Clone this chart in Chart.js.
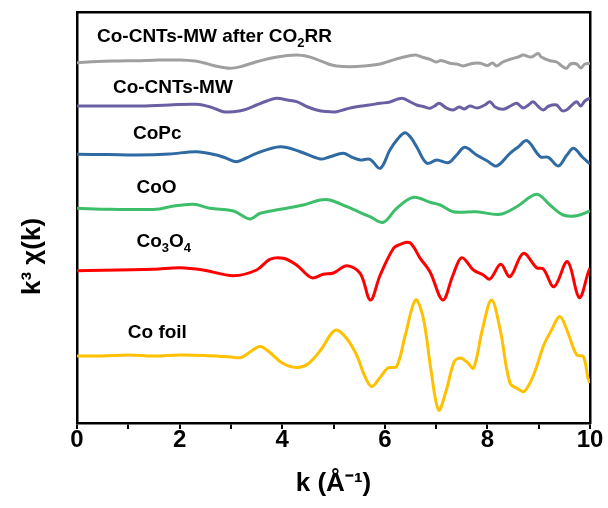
<!DOCTYPE html>
<html>
<head>
<meta charset="utf-8">
<script src="https://cdn.jsdelivr.net/npm/chart.js@4.4.1/dist/chart.umd.min.js"></script>
<style>
html,body{margin:0;padding:0;background:#fff;}
canvas{display:block;}
</style>
</head>
<body>
<canvas id="c" width="608" height="508"></canvas>
<script>
// ---- Data (k in Å^-1, k^3 chi(k) with vertical offsets, arbitrary units) ----
const seriesNames = ["Co-CNTs-MW after CO2RR", "Co-CNTs-MW", "CoPc", "CoO", "Co3O4", "Co foil"];
const seriesColors = ["#9F9F9F", "#6960A3", "#2F6AA3", "#3DBE6A", "#FF0000", "#FFC000"];

const kAfter = [0,0.4,0.8,1.16,1.6,2.0,2.3,2.46,2.7,2.98,3.2,3.5,3.9,4.28,4.5,4.67,4.9,5.06,5.32,5.6,5.91,6.1,6.3,6.59,6.75,6.88,7.0,7.1,7.27,7.4,7.53,7.7,7.86,8.0,8.1,8.18,8.3,8.44,8.6,8.7,8.85,8.99,9.05,9.22,9.35,9.45,9.54,9.62,9.74,9.82,9.9,10];
const yAfter = [360.3,361.5,362,362.3,363,363,362,360.3,357,354.7,356.5,361.3,366,368,366.5,363.7,359,357,356.3,357,359,362,365,368,365.5,363.7,361,362.5,359.7,359,357,359.5,359.7,357.5,360,357,361,363.7,366,368,366,369.5,366,362.3,361,357,354.7,359,359,355,359,359.7];

const kCNT = [0,0.6,1.16,1.8,2.33,2.6,2.85,3.05,3.25,3.5,3.7,3.89,4.1,4.28,4.5,4.67,4.85,5.06,5.25,5.45,5.7,5.91,6.1,6.33,6.5,6.62,6.75,6.88,6.97,7.06,7.2,7.33,7.45,7.55,7.66,7.8,7.95,8.05,8.15,8.31,8.45,8.57,8.7,8.8,8.89,9.0,9.09,9.2,9.35,9.45,9.54,9.65,9.74,9.82,9.9,10];
const yCNT = [317,317,317,318,318.7,316,311.3,311.3,313,318,322,324.7,323,321.3,316,313,311.5,311.3,314,316.3,318,319.7,321,324.7,321,318,316.5,314.7,317,319.7,315,313,316,314,317,315,318,321.3,316,313.7,317,319.7,315,318,321.3,316,313,317,318,312.5,313,318,321.3,317,322,325];

const kCoPc = [0,0.6,1.16,1.8,2.33,2.72,2.9,3.11,3.3,3.5,3.96,4.35,4.74,4.93,5.19,5.35,5.52,5.71,5.91,6.1,6.25,6.39,6.5,6.62,6.82,7.01,7.24,7.4,7.56,7.79,8.0,8.18,8.44,8.6,8.77,9.03,9.19,9.38,9.55,9.68,9.85,10];
const yCoPc = [268.7,268.5,268,269,271.3,268,265,261.3,265,269.7,276.3,271.3,264,266.3,269.7,266,263,263.7,254.7,273,284,290.3,286,276.3,259.7,263,260.3,268,275.7,268,262,257,269.7,276,282.3,266.3,265.7,257,268,274.7,266,259];

const kCoO = [0,0.64,1.55,1.81,2.27,2.59,3.05,3.37,3.57,3.96,4.41,4.74,4.93,5.26,5.71,5.97,6.23,6.56,6.88,7.08,7.33,7.79,8.25,8.57,8.96,9.22,9.48,9.74,10];
const yCoO = [214.7,213.7,213.7,216.3,218.7,214.7,212,204,209.7,213.7,218,223,223,216.3,206.3,200.7,214.7,225.7,220.7,218,211.3,211.3,208.7,216.3,228.7,218,208,207.3,212];

const kCo3O4 = [0,1.49,2.0,2.46,3.05,3.5,3.76,4.02,4.28,4.57,4.8,5.0,5.26,5.52,5.72,5.91,6.17,6.3,6.49,6.69,6.88,7.13,7.33,7.5,7.73,7.92,8.05,8.26,8.44,8.7,8.96,9.09,9.3,9.56,9.79,9.97,10];
const yCo3O4 = [152.3,153.7,155.3,153,147.3,153,163.7,164.7,158,145.3,148.7,150,157.3,149.7,123,148,174.7,178.7,180.3,164.7,151.3,123,148,165.3,153,148,144,158.7,146.3,169.7,155.3,154,136.3,161.3,125.3,151.3,155];

const kFoil = [0,0.5,1,1.5,2,2.5,3,3.2,3.4,3.57,3.75,4.0,4.28,4.5,4.75,4.95,5.06,5.25,5.45,5.6,5.74,5.9,6.06,6.23,6.4,6.6,6.75,6.9,7.05,7.2,7.35,7.47,7.6,7.73,7.9,8.08,8.25,8.44,8.6,8.72,8.9,9.1,9.25,9.41,9.55,9.74,9.87,9.96,10];
const yFoil = [67,67,68,67,68,67.5,66,65.5,72,76.5,71,60,55.5,59,73,89,93,85,68,48,36.5,45,55,56.5,88,123,105,53,13,33,61,65,61,55,93,123,93,40,34,31.5,48,78,93,106.5,93,68,66.5,45,40];

const kSeries = [kAfter, kCNT, kCoPc, kCoO, kCo3O4, kFoil];
const ySeries = [yAfter, yCNT, yCoPc, yCoO, yCo3O4, yFoil];

// x-axis tick labels (major ticks every 2, minor every 1)
const xTickLabels = ["0", "", "2", "", "4", "", "6", "", "8", "", "10"];

// in-plot series labels: text segments ("sub" = subscript), anchor in data coords
const labelSegments = [
  [["Co-CNTs-MW after CO",""],["2","sub"],["RR",""]],
  [["Co-CNTs-MW",""]],
  [["CoPc",""]],
  [["CoO",""]],
  [["Co",""],["3","sub"],["O",""],["4","sub"]],
  [["Co foil",""]]
];
const labelK = [0.39, 0.70, 1.09, 1.16, 1.16, 0.99];
const labelY = [381, 330, 284, 230, 176, 85];

// ---- Chart ----
const FONT = "'Liberation Sans', Arial, sans-serif";

const datasets = seriesNames.map((name, i) => ({
  label: name,
  data: kSeries[i].map((k, j) => ({x: k, y: ySeries[i][j]})),
  borderColor: seriesColors[i],
  backgroundColor: seriesColors[i],
  borderWidth: 3,
  pointRadius: 0,
  tension: 0.35,
  fill: false,
  xAxisID: 'x',
  yAxisID: 'y'
}));

const labelPlugin = {
  id: 'seriesLabels',
  afterDatasetsDraw(chart) {
    const ctx = chart.ctx;
    const xs = chart.scales.x, ys = chart.scales.y;
    ctx.save();
    ctx.fillStyle = '#000';
    ctx.textBaseline = 'alphabetic';
    ctx.textAlign = 'left';
    labelSegments.forEach((segs, i) => {
      let x = xs.getPixelForValue(labelK[i]);
      const y = ys.getPixelForValue(labelY[i]);
      segs.forEach(([txt, kind]) => {
        if (kind === 'sub') {
          ctx.font = "bold 13px " + FONT;
          ctx.fillText(txt, x, y + 5);
        } else {
          ctx.font = "bold 19px " + FONT;
          ctx.fillText(txt, x, y);
        }
        x += ctx.measureText(txt).width;
      });
    });
    ctx.restore();
  }
};

new Chart(document.getElementById('c'), {
  type: 'line',
  data: { datasets },
  plugins: [labelPlugin],
  options: {
    responsive: false,
    animation: false,
    layout: { padding: { top: 12, right: 18, bottom: 0, left: 0 } },
    plugins: { legend: { display: false }, tooltip: { enabled: false } },
    scales: {
      x: {
        type: 'linear', position: 'bottom', min: 0, max: 10,
        afterFit(s) { s.height = 85; },
        border: { display: true, color: '#000', width: 2.5 },
        grid: { display: true, drawOnChartArea: false, drawTicks: true, tickLength: 6, color: '#000', lineWidth: 2 },
        ticks: {
          stepSize: 1, autoSkip: false, maxRotation: 0, padding: -1,
          color: '#000', font: { family: FONT, size: 24, weight: 'bold', lineHeight: 1 },
          callback: (v) => xTickLabels[Math.round(v)] ?? ''
        },
        title: {
          display: true, text: 'k (Å⁻¹)', color: '#000',
          font: { family: FONT, size: 26, weight: 'bold' },
          padding: { top: 0, bottom: 9 }
        }
      },
      y: {
        type: 'linear', position: 'left', min: 0, max: 411,
        afterFit(s) { s.width = 77; },
        border: { display: true, color: '#000', width: 2.5 },
        grid: { display: false, drawTicks: false },
        ticks: { display: false },
        title: {
          display: true, text: 'k³ χ(k)\u2003\u2003\u2003', color: '#000',
          font: { family: FONT, size: 26, weight: 'bold' },
          padding: { top: 17, bottom: 0 }
        }
      },
      x2: {
        type: 'linear', position: 'top', min: 0, max: 10,
        afterFit(s) { s.height = 0; },
        border: { display: true, color: '#000', width: 2.5 },
        grid: { display: false, drawTicks: false },
        ticks: { display: false }
      },
      y2: {
        type: 'linear', position: 'right', min: 0, max: 411,
        afterFit(s) { s.width = 0; },
        border: { display: true, color: '#000', width: 2.5 },
        grid: { display: false, drawTicks: false },
        ticks: { display: false }
      }
    }
  }
});
</script>
</body>
</html>
